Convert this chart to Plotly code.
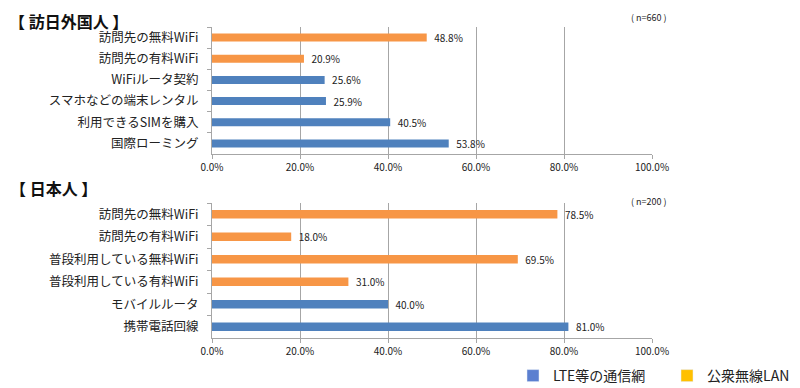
import plotly.graph_objects as go

# ---- data ----
visitor_cats = ["訪問先の無料WiFi", "訪問先の有料WiFi", "WiFiルータ契約",
                "スマホなどの端末レンタル", "利用できるSIMを購入", "国際ローミング"]
visitor_vals = [48.8, 20.9, 25.6, 25.9, 40.5, 53.8]
visitor_type = ["wlan", "wlan", "lte", "lte", "lte", "lte"]

japanese_cats = ["訪問先の無料WiFi", "訪問先の有料WiFi", "普段利用している無料WiFi",
                 "普段利用している有料WiFi", "モバイルルータ", "携帯電話回線"]
japanese_vals = [78.5, 18.0, 69.5, 31.0, 40.0, 81.0]
japanese_type = ["wlan", "wlan", "wlan", "wlan", "lte", "lte"]

x_ticks = [0, 20, 40, 60, 80, 100]
x_ticklabels = ["0.0%", "20.0%", "40.0%", "60.0%", "80.0%", "100.0%"]

titles = ["【 訪日外国人 】", "【 日本人 】"]
n_labels = ["( n=660 )", "( n=200 )"]
legend_names = ["LTE等の通信網", "公衆無線LAN"]

BAR_COL = {"lte": "#4F81BD", "wlan": "#F79646"}
LEG_COL = {"lte": "#5B7FD0", "wlan": "#FFC000"}

FONT = "Noto Sans CJK JP"
W, H = 800, 388
OFF = 8  # page body margin offsets the figure

fig = go.Figure()

panels = [
    (visitor_cats, visitor_vals, visitor_type, "x", "y"),
    (japanese_cats, japanese_vals, japanese_type, "x2", "y2"),
]
for cats, vals, types, xa, ya in panels:
    for kind in ["lte", "wlan"]:
        cy = [c for c, t in zip(cats, types) if t == kind]
        cx = [v for v, t in zip(vals, types) if t == kind]
        fig.add_trace(go.Bar(
            x=cx, y=cy, orientation="h", xaxis=xa, yaxis=ya,
            marker=dict(color=BAR_COL[kind], line=dict(width=0)),
            width=0.38,
            text=[f"  {v:.1f}%" for v in cx], textposition="outside",
            textfont=dict(family=FONT, size=10, color="#222222"),
            constraintext="none",
            cliponaxis=False, showlegend=False, hoverinfo="skip",
        ))

# legend-only entries
for kind, name in zip(["lte", "wlan"], legend_names):
    fig.add_trace(go.Bar(x=[None], y=[None], name=name,
                         marker=dict(color=LEG_COL[kind]), xaxis="x", yaxis="y"))

def px_x(p):
    return (p - OFF) / W

def px_y(p):
    return 1 - (p - OFF) / H

xdom = [px_x(212), px_x(652)]
axis_common = dict(
    range=[0, 100], tickvals=x_ticks, ticktext=x_ticklabels,
    showgrid=True, gridcolor="#a6a6a6", gridwidth=1,
    showline=True, linecolor="#a6a6a6", linewidth=1,
    ticks="outside", ticklen=4, tickcolor="#a6a6a6",
    tickfont=dict(family=FONT, size=10, color="#222222"),
    zeroline=False, fixedrange=True, domain=xdom, automargin=False,
)
yaxis_common = dict(
    type="category", autorange=False, range=[5.5, -0.5],
    showline=True, linecolor="#a6a6a6", linewidth=1,
    ticks="outside", ticklen=4, tickcolor="#a6a6a6", tickson="boundaries",
    tickfont=dict(family=FONT, size=12.5, color="#222222"),
    showgrid=False, zeroline=False, fixedrange=True, ticklabelstandoff=10,
    automargin=False,
)

fig.update_layout(
    width=W, height=H,
    margin=dict(l=0, r=0, t=0, b=0, autoexpand=False),
    paper_bgcolor="white", plot_bgcolor="white",
    barmode="overlay",
    font=dict(family=FONT, color="#222222"),
    xaxis=dict(anchor="y", **axis_common),
    yaxis=dict(anchor="x", domain=[px_y(154), px_y(27)],
               categoryorder="array", categoryarray=visitor_cats, **yaxis_common),
    xaxis2=dict(anchor="y2", **axis_common),
    yaxis2=dict(anchor="x2", domain=[px_y(338), px_y(203)],
                categoryorder="array", categoryarray=japanese_cats, **yaxis_common),
    legend=dict(orientation="h", x=px_x(513), xanchor="left",
                y=px_y(376), yanchor="middle",
                font=dict(family=FONT, size=14, color="#222222"),
                entrywidth=109, entrywidthmode="pixels",
                bgcolor="rgba(0,0,0,0)"),
    annotations=[
        dict(text=titles[0], x=px_x(8), y=1.0, xref="paper", yref="paper",
             xanchor="left", yanchor="top", showarrow=False, borderpad=0,
             font=dict(family=FONT, size=16, color="#111111", weight="bold")),
        dict(text=titles[1], x=px_x(8), y=px_y(188), xref="paper", yref="paper",
             xanchor="left", yanchor="middle", showarrow=False,
             font=dict(family=FONT, size=16, color="#111111", weight="bold")),
        dict(text=n_labels[0], x=px_x(669), y=px_y(17), xref="paper", yref="paper",
             xanchor="right", yanchor="middle", showarrow=False,
             font=dict(family=FONT, size=9, color="#222222")),
        dict(text=n_labels[1], x=px_x(669), y=px_y(201), xref="paper", yref="paper",
             xanchor="right", yanchor="middle", showarrow=False,
             font=dict(family=FONT, size=9, color="#222222")),
    ],
)

fig.write_html("out.html")
